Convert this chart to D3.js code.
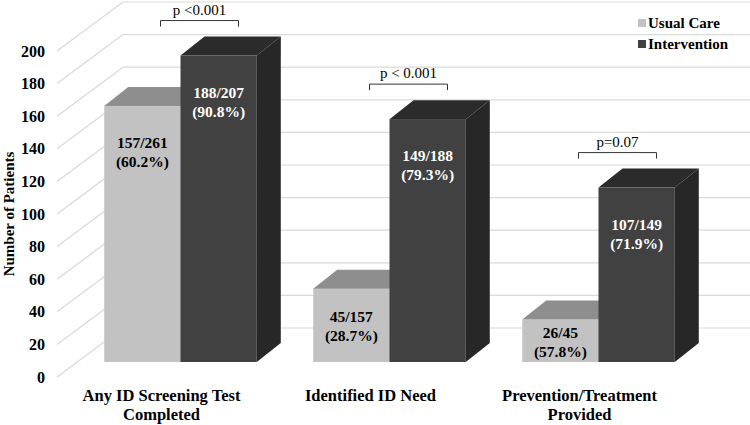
<!DOCTYPE html>
<html>
<head>
<meta charset="utf-8">
<script src="https://cdn.jsdelivr.net/npm/d3@7"></script>
<style>
  body { margin: 0; background: #fff; }
  svg { display: block; font-family: "Liberation Serif", "Times New Roman", serif; }
</style>
</head>
<body>
<svg id="chart" width="750" height="425"></svg>
<script>

var categories = ['Any ID Screening Test\nCompleted', 'Identified ID Need', 'Prevention/Treatment\nProvided'],
    series = ['Usual Care', 'Intervention'],
    usualCare = [157, 45, 26],
    usualCareTotal = [261, 157, 45],
    usualCarePct = ['60.2%', '28.7%', '57.8%'],
    intervention = [188, 149, 107],
    interventionTotal = [207, 188, 149],
    interventionPct = ['90.8%', '79.3%', '71.9%'],
    pValues = ['p <0.001', 'p < 0.001', 'p=0.07'],
    yTicks = [0, 20, 40, 60, 80, 100, 120, 140, 160, 180, 200];

var svg = d3.select('#chart'),
    wall = { dx: 66, dy: -49 },      // floor depth (front plane -> back wall)
    lift = { dx: 19, dy: -15 },      // front face of the bars
    depth = { dx: 24, dy: -19 },     // bar thickness
    colors = {
      'Usual Care': { front: '#c2c2c2', top: '#8e8e8e', side: '#a5a5a5', text: '#000' },
      'Intervention': { front: '#414141', top: '#2b2b2b', side: '#272727', text: '#fff' }
    };

var y = d3.scaleLinear().domain([0, 200]).range([377, 51]),
    x = d3.scaleBand().domain(categories).range([57, 684]).paddingInner(0.27).paddingOuter(0.135),
    xs = d3.scaleBand().domain(series).range([0, x.bandwidth()]);

var rows = categories.map(function(c, i) {
  return {
    cat: c,
    bars: [
      { s: series[0], v: usualCare[i], n: usualCareTotal[i], pct: usualCarePct[i] },
      { s: series[1], v: intervention[i], n: interventionTotal[i], pct: interventionPct[i] }
    ],
    p: pValues[i]
  };
});

// walls: back grid lines + left side diagonals
var grid = svg.append('g').attr('stroke', '#d9d9d9').attr('stroke-width', 1.2);
grid.selectAll('line.back')
    .data(yTicks)
  .enter().append('line')
    .attr('x1', 57 + wall.dx).attr('x2', 750)
    .attr('y1', function(d) { return y(d) + wall.dy; })
    .attr('y2', function(d) { return y(d) + wall.dy; });
grid.selectAll('line.side')
    .data(yTicks)
  .enter().append('line')
    .attr('x1', 57).attr('x2', 57 + wall.dx)
    .attr('y1', function(d) { return y(d); })
    .attr('y2', function(d) { return y(d) + wall.dy; });

// y axis labels
var axis = svg.append('g')
    .attr('transform', 'translate(57,0)')
    .call(d3.axisLeft(y).tickValues(yTicks).tickSize(0).tickPadding(12));
axis.select('.domain').remove();
axis.selectAll('text')
    .attr('font-family', '"Liberation Serif", serif')
    .attr('font-size', 16).attr('font-weight', 'bold').attr('fill', '#000');

svg.append('text')
    .attr('transform', 'translate(14,' + y(100) + ') rotate(-90)')
    .attr('text-anchor', 'middle')
    .attr('font-size', 15).attr('font-weight', 'bold')
    .text('Number of Patients');

// bars
var base = y(0) + lift.dy;
rows.forEach(function(r) {
  var g = svg.append('g');
  r.bars.forEach(function(b) {
    var x0 = x(r.cat) + xs(b.s) + lift.dx,
        x1 = x0 + xs.bandwidth(),
        top = y(b.v) + lift.dy,
        c = colors[b.s];
    b.x0 = x0; b.x1 = x1; b.top = top;
    g.append('rect')
        .attr('x', x0).attr('y', top)
        .attr('width', x1 - x0).attr('height', base - top)
        .attr('fill', c.front);
    g.append('polygon')
        .attr('points', [[x0, top], [x1, top], [x1 + depth.dx, top + depth.dy], [x0 + depth.dx, top + depth.dy]].join(' '))
        .attr('fill', c.top);
    g.append('polygon')
        .attr('points', [[x1, top], [x1 + depth.dx, top + depth.dy], [x1 + depth.dx, base + depth.dy], [x1, base]].join(' '))
        .attr('fill', c.side);
  });
  r.bars.forEach(function(b) {
    var h = base - b.top,
        cy = b.top + Math.min(h / 2, 45),
        t = g.append('text')
          .attr('text-anchor', 'middle')
          .attr('font-size', 15.5).attr('font-weight', 'bold')
          .attr('fill', colors[b.s].text);
    t.append('tspan').attr('x', (b.x0 + b.x1) / 2).attr('y', cy - 3).text(b.v + '/' + b.n);
    t.append('tspan').attr('x', (b.x0 + b.x1) / 2).attr('y', cy + 16).text('(' + b.pct + ')');
  });

  // significance bracket
  var hi = r.bars[1],
      mid = x(r.cat) + x.bandwidth() / 2 + lift.dx + 19,
      by = hi.top + depth.dy - 16;
  svg.append('path')
      .attr('d', 'M' + (mid - 39) + ',' + (by + 6) + 'V' + by + 'H' + (mid + 39) + 'V' + (by + 6))
      .attr('fill', 'none').attr('stroke', '#333').attr('stroke-width', 1);
  svg.append('text')
      .attr('x', mid).attr('y', by - 6)
      .attr('text-anchor', 'middle').attr('font-size', 15)
      .text(r.p);
});

// category labels, one text per line
categories.forEach(function(d) {
  d.split('\n').forEach(function(line, i) {
    svg.append('text')
        .attr('class', 'cat')
        .attr('x', x(d) + x.bandwidth() / 2)
        .attr('y', 401 + i * 18.5)
        .attr('text-anchor', 'middle')
        .attr('font-size', 16.5).attr('font-weight', 'bold')
        .text(line);
  });
});

// legend
var legend = svg.selectAll('g.legend')
    .data(series)
  .enter().append('g')
    .attr('class', 'legend')
    .attr('transform', function(d, i) { return 'translate(638,' + (19 + i * 21) + ')'; });
legend.append('rect').attr('width', 8).attr('height', 8)
    .attr('fill', function(d) { return colors[d].front; });
legend.append('text').attr('x', 10).attr('y', 9)
    .attr('font-size', 15).attr('font-weight', 'bold')
    .text(function(d) { return d; });

</script>
</body>
</html>
